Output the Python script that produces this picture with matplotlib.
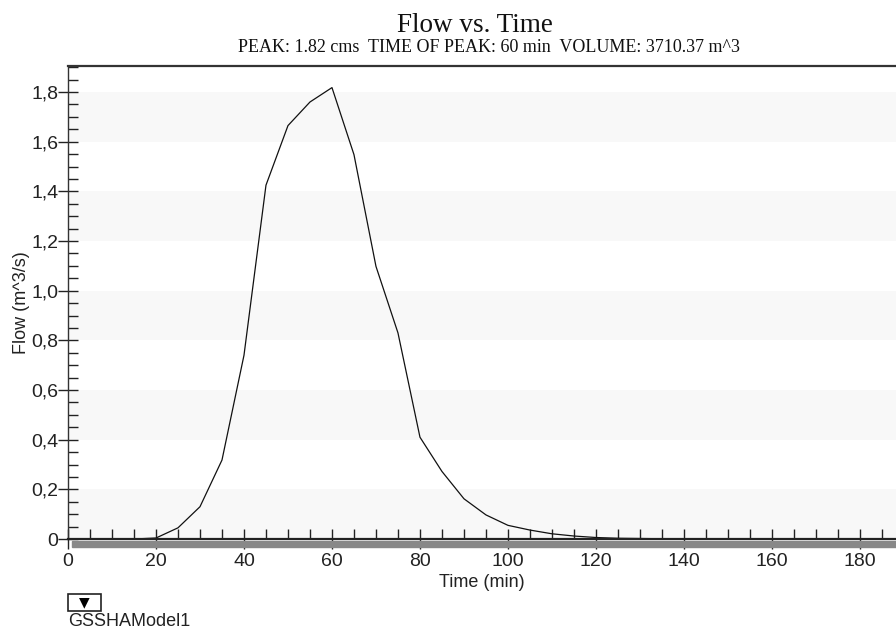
import matplotlib.pyplot as plt
from matplotlib.ticker import MultipleLocator, FuncFormatter
from matplotlib.patches import Rectangle

# hydrograph values
time_min = [7.5, 10, 15, 20, 25, 30, 35, 40, 45, 50, 55, 60, 65, 70, 75, 80,
            85, 90, 95, 100, 105, 110, 115, 120, 125, 130, 135, 137.5]
flow_cms = [0.0, 0.0, 0.0, 0.004, 0.045, 0.13, 0.318, 0.74, 1.425, 1.665, 1.76, 1.818, 1.548, 1.098, 0.83, 0.41,
            0.272, 0.162, 0.097, 0.055, 0.036, 0.021, 0.012, 0.006, 0.003, 0.002, 0.001, 0.0]

title = "Flow vs. Time"
subtitle = "PEAK: 1.82 cms  TIME OF PEAK: 60 min  VOLUME: 3710.37 m^3"
legend_name = "GSSHAModel1"

plt.rcParams['font.family'] = ['Liberation Sans', 'DejaVu Sans']

fig = plt.figure(figsize=(8.96, 6.3), dpi=100)
W, H = 896, 630
ax = fig.add_axes([68 / W, 1 - 539 / H, 1 - 68 / W, (539 - 66) / H])

ax.set_xlim(0, 188.2)
ax.set_ylim(0, 1.905)

# alternating light bands
for lo in [0.0, 0.4, 0.8, 1.2, 1.6]:
    ax.axhspan(lo, lo + 0.2, color='#f8f8f8', zorder=0, lw=0)

ax.plot(time_min, flow_cms, color='#111111', lw=0.9, zorder=3)

for s in ['right', 'bottom']:
    ax.spines[s].set_visible(False)
ax.spines['top'].set_color('#333333')
ax.spines['top'].set_linewidth(1.6)
ax.spines['left'].set_color('#333333')
ax.spines['left'].set_linewidth(1.0)
ax.axhline(0, color='#222222', lw=1.6, zorder=4, clip_on=False)

ax.xaxis.set_major_locator(MultipleLocator(20))
ax.xaxis.set_minor_locator(MultipleLocator(5))
ax.yaxis.set_major_locator(MultipleLocator(0.2))
ax.yaxis.set_minor_locator(MultipleLocator(0.05))

def comma(v, pos):
    if abs(v) < 1e-9:
        return "0"
    return ("%.1f" % v).replace('.', ',')

ax.yaxis.set_major_formatter(FuncFormatter(comma))
ax.xaxis.set_major_formatter(FuncFormatter(lambda v, p: "%d" % v))

ax.tick_params(axis='both', which='major', direction='inout', length=14, width=1.0,
               color='#222222', labelsize=14, labelcolor='#222222')
ax.tick_params(axis='both', which='minor', direction='in', length=7, width=1.0, color='#222222')
ax.tick_params(axis='x', which='major', pad=3)
ax.tick_params(axis='y', which='major', pad=0)

ax.set_xlabel("Time (min)", fontsize=13, color='#222222', labelpad=3)
ax.set_ylabel("Flow (m^3/s)", fontsize=13, color='#222222', labelpad=1)

# shadow strip under the time axis
fig.patches.append(Rectangle((72 / W, 1 - 547 / H), 1, 6 / H, transform=fig.transFigure,
                             color='#888888', zorder=1))

fig.text(475 / W, 1 - 26 / H, title, ha='center', va='center', fontsize=19.5,
         family='Liberation Serif', color='#111111')
fig.text(489 / W, 1 - 48 / H, subtitle, ha='center', va='center', fontsize=13,
         family='Liberation Serif', color='#111111')

# legend toggle and series name
fig.patches.append(Rectangle((68 / W, 1 - 611 / H), 33 / W, 17 / H, transform=fig.transFigure,
                             fc='white', ec='#222222', lw=1.2))
fig.text(84.5 / W, 1 - 602.5 / H, "\u25BC", ha='center', va='center', fontsize=10,
         color='black', family='DejaVu Sans')
fig.text(68 / W, 1 - 622 / H, legend_name, ha='left', va='center', fontsize=13,
         color='#222222')

fig.savefig('out.png', dpi=100)
